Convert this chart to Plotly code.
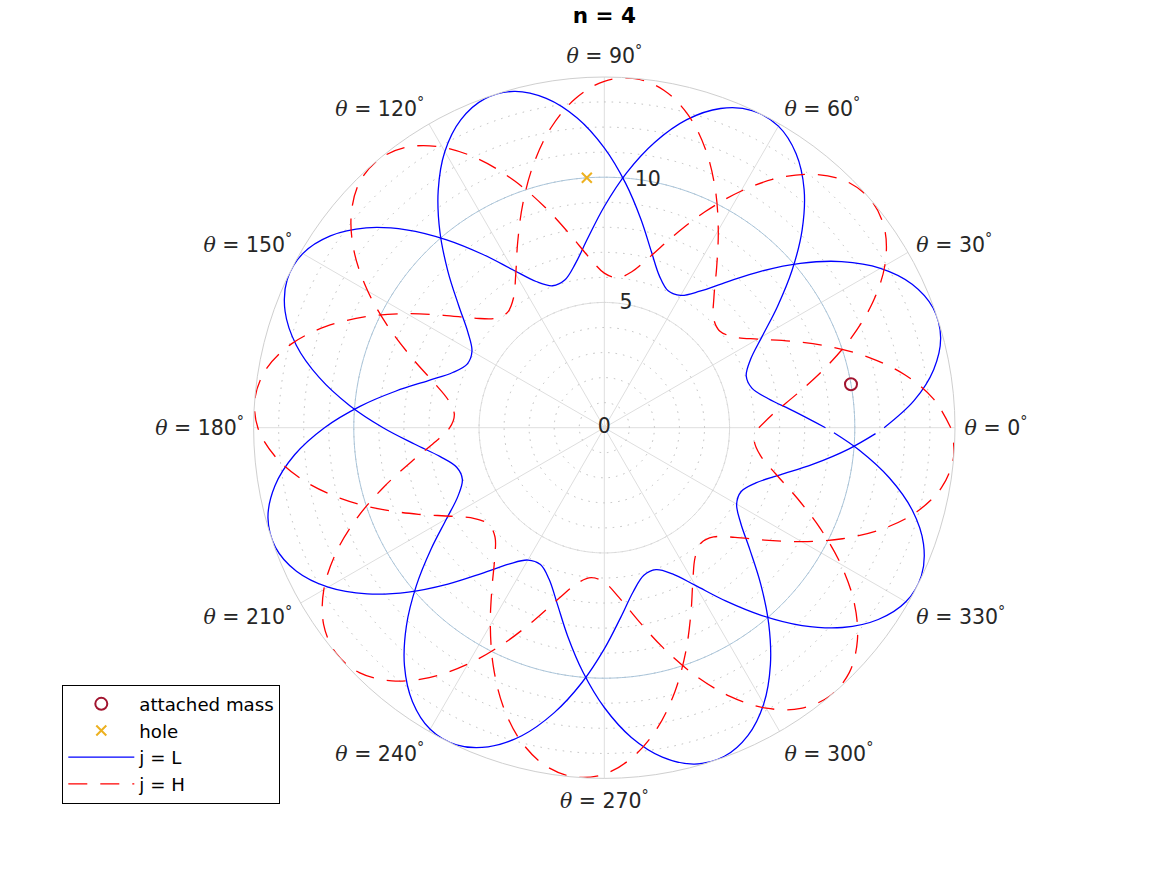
import plotly.graph_objects as go
import numpy as np

# ---- data (theta in degrees, r in chart units) ----
theta_deg = [0, 5, 10, 15, 20, 25, 30, 35, 40, 45, 50, 55, 60, 65, 70, 75, 80, 85,
             90, 95, 100, 105, 110, 115, 120, 125, 130, 135, 140, 145, 150, 155, 160, 165, 170, 175,
             180, 185, 190, 195, 200, 205, 210, 215, 220, 225, 230, 235, 240, 245, 250, 255, 260, 265,
             270, 275, 280, 285, 290, 295, 300, 305, 310, 315, 320, 325, 330, 335, 340, 345, 350, 355,
             358.75]

# j = L : two branches (outer/inner phase)
r_L_a = [11.17, 12.41, 13.35, 13.90, 13.97, 13.56, 12.73, 11.56, 10.21, 8.83, 7.59, 6.65, 6.10, 6.03, 6.44, 7.27, 8.44, 9.79,
         11.17, 12.41, 13.35, 13.90, 13.97, 13.56, 12.73, 11.56, 10.21, 8.83, 7.59, 6.65, 6.10, 6.03, 6.44, 7.27, 8.44, 9.79,
         11.17, 12.41, 13.35, 13.90, 13.97, 13.56, 12.73, 11.56, 10.21, 8.83, 7.59, 6.65, 6.10, 6.03, 6.44, 7.27, 8.44, 9.79,
         11.17, 12.41, 13.35, 13.90, 13.97, 13.56, 12.73, 11.56, 10.21, 8.83, 7.59, 6.65, 6.10, 6.03, 6.44, 7.27, 8.44, 9.79,
         10.83]
r_L_b = [8.83, 7.59, 6.65, 6.10, 6.03, 6.44, 7.27, 8.44, 9.79, 11.17, 12.41, 13.35, 13.90, 13.97, 13.56, 12.73, 11.56, 10.21,
         8.83, 7.59, 6.65, 6.10, 6.03, 6.44, 7.27, 8.44, 9.79, 11.17, 12.41, 13.35, 13.90, 13.97, 13.56, 12.73, 11.56, 10.21,
         8.83, 7.59, 6.65, 6.10, 6.03, 6.44, 7.27, 8.44, 9.79, 11.17, 12.41, 13.35, 13.90, 13.97, 13.56, 12.73, 11.56, 10.21,
         8.83, 7.59, 6.65, 6.10, 6.03, 6.44, 7.27, 8.44, 9.79, 11.17, 12.41, 13.35, 13.90, 13.97, 13.56, 12.73, 11.56, 10.21,
         9.17]
# j = H : two branches
r_H_a = [6.17, 6.81, 7.82, 9.10, 10.49, 11.82, 12.93, 13.68, 13.99, 13.83, 13.19, 12.18, 10.90, 9.51, 8.18, 7.07, 6.32, 6.01,
         6.17, 6.81, 7.82, 9.10, 10.49, 11.82, 12.93, 13.68, 13.99, 13.83, 13.19, 12.18, 10.90, 9.51, 8.18, 7.07, 6.32, 6.01,
         6.17, 6.81, 7.82, 9.10, 10.49, 11.82, 12.93, 13.68, 13.99, 13.83, 13.19, 12.18, 10.90, 9.51, 8.18, 7.07, 6.32, 6.01,
         6.17, 6.81, 7.82, 9.10, 10.49, 11.82, 12.93, 13.68, 13.99, 13.83, 13.19, 12.18, 10.90, 9.51, 8.18, 7.07, 6.32, 6.01,
         6.09]
r_H_b = [13.83, 13.19, 12.18, 10.90, 9.51, 8.18, 7.07, 6.32, 6.01, 6.17, 6.81, 7.82, 9.10, 10.49, 11.82, 12.93, 13.68, 13.99,
         13.83, 13.19, 12.18, 10.90, 9.51, 8.18, 7.07, 6.32, 6.01, 6.17, 6.81, 7.82, 9.10, 10.49, 11.82, 12.93, 13.68, 13.99,
         13.83, 13.19, 12.18, 10.90, 9.51, 8.18, 7.07, 6.32, 6.01, 6.17, 6.81, 7.82, 9.10, 10.49, 11.82, 12.93, 13.68, 13.99,
         13.83, 13.19, 12.18, 10.90, 9.51, 8.18, 7.07, 6.32, 6.01, 6.17, 6.81, 7.82, 9.10, 10.49, 11.82, 12.93, 13.68, 13.99,
         13.91]

mass_theta = [10.0]
mass_r = [10.0]
hole_theta = [94.0]
hole_r = [10.0]
ring_r = 10.0

angular_ticks = [0, 30, 60, 90, 120, 150, 180, 210, 240, 270, 300, 330]
radial_ticks = [0, 5, 10]
radial_label_angle = 80
r_max = 14

# ---- styling ----
FONT = "DejaVu Sans"
TICK_COLOR = "#262626"
TICK_SIZE = 20.5
circle_theta = list(np.linspace(0, 360, 361))


def theta_label(a):
    return (f'<span style="font-family:DejaVu Serif"><i>θ</i></span> = {a}<sup>°</sup>')


fig = go.Figure()

# major grid circle at r = 5
fig.add_trace(go.Scatterpolar(r=[5] * len(circle_theta), theta=circle_theta, mode="lines",
                              line=dict(color="#DCDCDC", width=1), showlegend=False,
                              hoverinfo="skip"))
# reference ring
fig.add_trace(go.Scatterpolar(r=[ring_r] * len(circle_theta), theta=circle_theta, mode="lines",
                              line=dict(color="#A9C4D9", width=1), showlegend=False,
                              hoverinfo="skip"))

fig.add_trace(go.Scatterpolar(
    r=r_L_a + [None] + r_L_b, theta=theta_deg + [None] + theta_deg,
    mode="lines", name="j = L", legendrank=3, connectgaps=False,
    line=dict(color="#0000FF", width=1.3, shape="spline", smoothing=1)))

fig.add_trace(go.Scatterpolar(
    r=r_H_a + [None] + r_H_b, theta=theta_deg + [None] + theta_deg,
    mode="lines", name="j = H", legendrank=4, connectgaps=False,
    line=dict(color="#FF0000", width=1.3, shape="spline", smoothing=1, dash="19px,13px")))

fig.add_trace(go.Scatterpolar(
    r=mass_r, theta=mass_theta, mode="markers", name="attached mass", legendrank=1,
    marker=dict(symbol="circle-open", size=12, color="#A2142F", line=dict(width=2, color="#A2142F"))))

fig.add_trace(go.Scatterpolar(
    r=hole_r, theta=hole_theta, mode="markers", name="hole", legendrank=2,
    marker=dict(symbol="x-thin-open", size=10, color="#EDB120", line=dict(width=2, color="#EDB120"))))

# radial tick labels
fig.add_trace(go.Scatterpolar(
    r=radial_ticks, theta=[radial_label_angle] * len(radial_ticks), mode="text",
    text=[str(v) for v in radial_ticks], textposition="middle center",
    textfont=dict(family=FONT, size=TICK_SIZE, color=TICK_COLOR), showlegend=False, hoverinfo="skip"))

cx, cy, rad = 604.3, 427.7, 350.7
W, H = 1167, 875

fig.update_layout(
    width=W, height=H,
    margin=dict(l=0, r=0, t=0, b=0),
    paper_bgcolor="white",
    title=dict(text="<b>n = 4</b>", x=cx / W, xanchor="center", xref="paper",
               y=1 - 15.5 / H, yanchor="middle", yref="container",
               font=dict(family=FONT, size=21.5, color="#000000")),
    polar=dict(
        domain=dict(x=[(cx - rad) / W, (cx + rad) / W], y=[(H - cy - rad) / H, (H - cy + rad) / H]),
        bgcolor="white",
        radialaxis=dict(range=[0, r_max], tick0=0, dtick=1, showticklabels=False, ticks="",
                        showline=False, gridcolor="#BDBDBD", gridwidth=1, griddash="1.5px,6px"),
        angularaxis=dict(tickmode="array", tickvals=angular_ticks,
                         ticktext=[theta_label(a) for a in angular_ticks],
                         tickfont=dict(family=FONT, size=TICK_SIZE, color=TICK_COLOR),
                         ticks="outside", ticklen=5, tickcolor="rgba(0,0,0,0)",
                         showline=True, linecolor="#CFCFCF", linewidth=1,
                         gridcolor="#DEDEDE", gridwidth=1,
                         rotation=0, direction="counterclockwise"),
    ),
    showlegend=True,
    legend=dict(x=62.3 / W, y=1 - 684.5 / H, xanchor="left", yanchor="top",
                bgcolor="white", bordercolor="#000000", borderwidth=1,
                font=dict(family=FONT, size=18.2, color="#000000"),
                itemwidth=66, tracegroupgap=0),
)

# remove the default page margin so the figure sits at the window origin
fig.write_html("out.html", config={"displayModeBar": False},
               post_script="document.body.style.margin='0px';")
